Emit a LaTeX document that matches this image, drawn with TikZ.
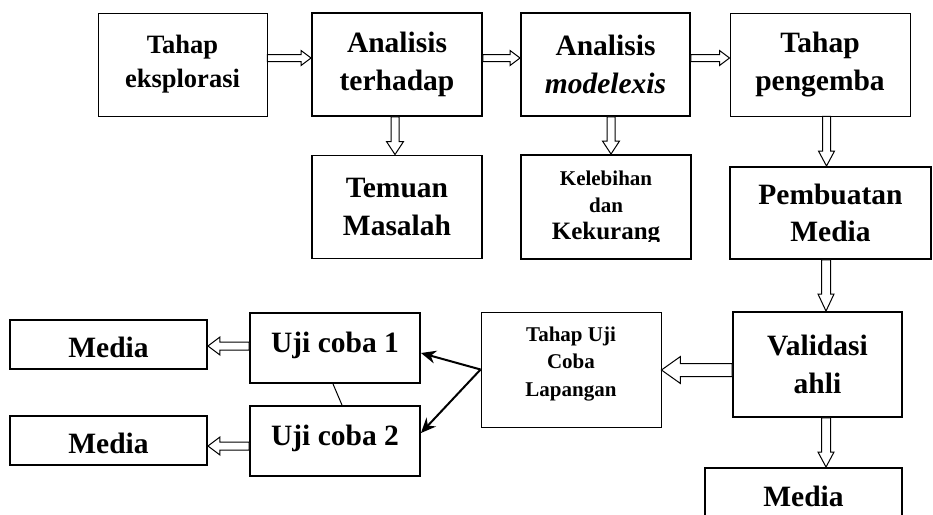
\documentclass[tikz,border=0pt]{standalone}
\usepackage{fontspec}
\setmainfont{Liberation Serif}
\usetikzlibrary{calc,arrows.meta}
\newcommand{\blockarrow}[5]{%
  \coordinate (bkH) at ($(#2)!#5!(#1)$);
  \draw[blk] ($(#1)!#3!90:(#2)$) -- ($(bkH)!#3!-90:(#1)$) -- ($(bkH)!#4!-90:(#1)$) -- (#2)
    -- ($(bkH)!#4!90:(#1)$) -- ($(bkH)!#3!90:(#1)$) -- ($(#1)!#3!-90:(#2)$) -- cycle;}
\tikzset{
  thickbox/.style={draw, line width=1.9pt, align=center, inner sep=0pt},
  thinbox/.style={draw, line width=0.9pt, align=center, inner sep=0pt},
  bigf/.style={font=\bfseries\fontsize{29.5}{37.5}\selectfont},
  midf/.style={font=\bfseries\fontsize{26.5}{34}\selectfont},
  smallf/.style={font=\bfseries\fontsize{21}{27.5}\selectfont},
  blk/.style={draw, fill=white, line width=1pt, line join=miter},
  solidarrow/.style={draw, line width=2pt, -{Stealth[length=15pt,width=13pt]}},
  plainline/.style={draw, line width=1pt},
}
\begin{document}
\begin{tikzpicture}[x=1pt,y=-1pt]
\useasboundingbox (0,0) rectangle (933,514);
\clip (0,0) rectangle (933,514);
\fill[white] (0,0) rectangle (933,514);
% top row
\node[thinbox, midf, minimum width=169pt, minimum height=103pt] (n1) at (182.5,64.5) {Tahap\\eksplorasi};
\node[thickbox, bigf, minimum width=170pt, minimum height=103pt] (n2) at (397,64.5) {Analisis\\terhadap};
\node[thickbox, bigf, minimum width=169pt, minimum height=103pt] (n3) at (605.5,64.5) {Analisis\\\textit{modelexis}};
\node[thinbox, bigf, minimum width=180pt, minimum height=103pt] (n4) at (820,64.5) {Tahap\\pengemba};
% second row
\node[thickbox, bigf, minimum width=170pt, minimum height=103pt] (n5) at (397,207) {Temuan\\Masalah};
\node[thickbox, minimum width=170pt, minimum height=104pt] (n6) at (606,207) {};
\begin{scope}
  \clip (521,150) rectangle (691,241);
  \node[smallf, align=center, anchor=north, inner sep=0pt] (n6t) at (606,170.5) {Kelebihan\\dan\\[-1pt]{\fontsize{25}{27}\selectfont Kekurang}};
\end{scope}
\node[thickbox, bigf, minimum width=201pt, minimum height=92pt] (n7) at (830.5,213) {Pembuatan\\Media};
% lower right
\node[thickbox, bigf, minimum width=169pt, minimum height=105pt] (n8) at (817.5,364.5) {Validasi\\ahli};
\node[thickbox, bigf, minimum width=197pt, minimum height=92pt] (n9) at (803.5,514) {Media\rule[-36pt]{0pt}{0pt}};
\node[thinbox, smallf, minimum width=180pt, minimum height=115pt] (n10) at (571,369.5) {Tahap Uji\\Coba\\Lapangan\rule[-16pt]{0pt}{0pt}};
% lower left
\node[thickbox, bigf, minimum width=170pt, minimum height=70pt] (n11) at (335,348) {Uji coba 1\rule[-12pt]{0pt}{0pt}};
\node[thickbox, bigf, minimum width=170pt, minimum height=70pt] (n12) at (335,441) {Uji coba 2\rule[-12pt]{0pt}{0pt}};
\node[thickbox, bigf, minimum width=197pt, minimum height=49pt] (n13) at (108.5,344.5) {\rule{0pt}{27pt}Media};
\node[thickbox, bigf, minimum width=197pt, minimum height=49pt] (n14) at (108.5,440.5) {\rule{0pt}{27pt}Media};
% block arrow end points
\coordinate (s12) at ([yshift=6.5pt]n1.east);   \coordinate (e12) at (s12 -| n2.west);
\coordinate (s23) at ([yshift=6.5pt]n2.east);   \coordinate (e23) at (s23 -| n3.west);
\coordinate (s34) at ([yshift=6.5pt]n3.east);   \coordinate (e34) at (s34 -| n4.west);
\coordinate (s25) at ([xshift=-2pt]n2.south);   \coordinate (e25) at (s25 |- n5.north);
\coordinate (s36) at ([xshift=5.5pt]n3.south);  \coordinate (e36) at (s36 |- n6.north);
\coordinate (s47) at ([xshift=6.5pt]n4.south);  \coordinate (e47) at (s47 |- n7.north);
\coordinate (s78) at ([xshift=-4.5pt]n7.south); \coordinate (e78) at (s78 |- n8.north);
\coordinate (s89) at ([xshift=8.5pt]n8.south);  \coordinate (e89) at (s89 |- n9.north);
\coordinate (s810) at ([yshift=-5.5pt]n8.west); \coordinate (e810) at (s810 -| n10.east);
\coordinate (s1113) at ([yshift=2pt]n11.west);  \coordinate (e1113) at (s1113 -| n13.east);
\coordinate (s1214) at ([yshift=-5pt]n12.west); \coordinate (e1214) at (s1214 -| n14.east);
\blockarrow{s12}{e12}{3.5pt}{7.5pt}{10pt}
\blockarrow{s23}{e23}{3.5pt}{7.5pt}{10pt}
\blockarrow{s34}{e34}{3.5pt}{7.5pt}{10pt}
\blockarrow{s25}{e25}{4pt}{8.5pt}{13pt}
\blockarrow{s36}{e36}{4pt}{8.5pt}{13pt}
\blockarrow{s47}{e47}{4pt}{8pt}{15pt}
\blockarrow{s78}{e78}{4.5pt}{8pt}{17pt}
\blockarrow{s89}{e89}{4.5pt}{8pt}{15pt}
\blockarrow{s810}{e810}{6.5pt}{13.5pt}{19pt}
\blockarrow{s1113}{e1113}{4pt}{9pt}{12pt}
\blockarrow{s1214}{e1214}{4pt}{9pt}{12pt}
% solid arrows and line
\coordinate (t11) at ([yshift=-5pt]n11.east);
\coordinate (t12) at ([yshift=8pt]n12.east);
\draw[solidarrow] (n10.west) -- (t11);
\draw[solidarrow] (n10.west) -- (t12);
\draw[plainline] ([xshift=-2pt]n11.south) -- ([xshift=7pt]n12.north);
\end{tikzpicture}
\end{document}
